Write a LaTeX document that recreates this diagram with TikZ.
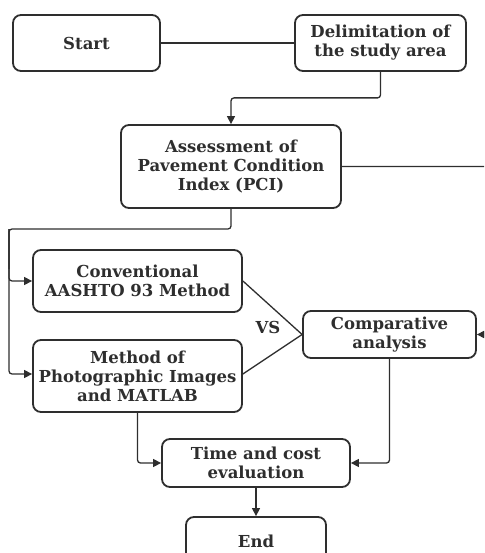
\documentclass[tikz,border=0pt]{standalone}
\usepackage{fontspec}
\setmainfont{DejaVu Serif}
\usetikzlibrary{arrows.meta}
\definecolor{ink}{HTML}{2E2E2E}
\tikzset{
  box/.style={draw=ink, line width=1.8pt, rounded corners=8pt, align=center,
    font=\fontsize{16.5}{19}\selectfont\bfseries, text=ink, inner sep=0pt},
  conn/.style={draw=ink, line width=1.3pt, rounded corners=3pt},
  arr/.style={conn, -{Triangle[length=8pt,width=8pt]}}
}
\begin{document}
\begin{tikzpicture}[x=1pt,y=-1pt]
\useasboundingbox (0,0) rectangle (484,553);
\clip (0,0) rectangle (484,553);
\node[box, minimum width=147pt, minimum height=56pt] (start) at (86.5,43) {Start};
\node[box, minimum width=171pt, minimum height=56pt] (delim) at (380.5,43) {Delimitation of\\the study area};
\node[box, minimum width=220pt, minimum height=83pt] (assess) at (231,166.5) {Assessment of\\Pavement Condition\\Index (PCI)};
\node[box, minimum width=209pt, minimum height=62pt] (conv) at (137.5,281) {Conventional\\AASHTO 93 Method};
\node[box, minimum width=209pt, minimum height=72pt] (meth) at (137.5,376) {Method of\\Photographic Images\\and MATLAB};
\node[box, minimum width=173pt, minimum height=47pt] (comp) at (389.5,334.5) {Comparative\\analysis};
\node[box, minimum width=188pt, minimum height=48pt] (time) at (256,463) {Time and cost\\evaluation};
\node[box, minimum width=140pt, minimum height=48pt] (end) at (256,541) {End};
\node[font=\fontsize{16.5}{19}\selectfont\bfseries, text=ink] (vs) at (268,327) {VS};
\coordinate (trunk) at (9,229);
\coordinate (rt) at (490,166.5);
\draw[conn] (start.east) -- (delim.west);
\draw[arr] (delim.south) -- ++(0,26) -| (assess.north);
\draw[arr] (assess.east) -- (rt) |- (comp.east);
\draw[conn] (assess.south) |- (trunk) -- ++(0,40);
\draw[arr] (trunk) |- (conv.west);
\draw[arr] (trunk) |- ([yshift=2pt]meth.west);
\draw[conn] (conv.east) -- (comp.west);
\draw[conn] ([yshift=2pt]meth.east) -- (comp.west);
\draw[arr] (comp.south) |- (time.east);
\draw[arr] (meth.south) |- (time.west);
\draw[arr] (time.south) -- (end.north);
\end{tikzpicture}
\end{document}
